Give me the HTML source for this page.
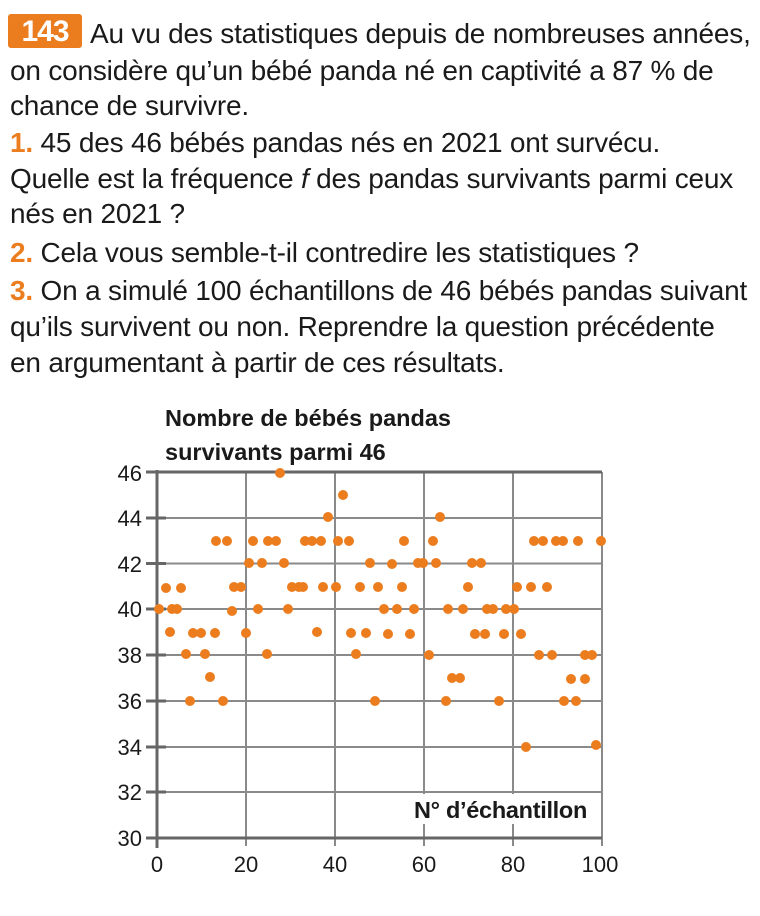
<!DOCTYPE html>
<html><head><meta charset="utf-8"><style>
body{margin:0;width:760px;height:916px;background:#fff;position:relative;overflow:hidden;font-family:"Liberation Sans",sans-serif;color:#1a1a1a}
.t{position:absolute;left:10px;font-size:28px;white-space:nowrap;line-height:36px;letter-spacing:-0.2px}
.o{color:#ec7d1e;font-weight:bold}
.badge{position:absolute;left:8px;top:14px;width:74px;height:34px;background:#ec7d1e;border-radius:3px;color:#fff;font-weight:bold;font-size:30px;text-align:center;line-height:35px;letter-spacing:-1px}
</style></head><body>
<div class="badge">143</div>
<div class="t" style="top:16px;left:90px">Au vu des statistiques depuis de nombreuses années,</div>
<div class="t" style="top:53px">on considère qu’un bébé panda né en captivité a 87 % de</div>
<div class="t" style="top:88px">chance de survivre.</div>
<div class="t" style="top:125px"><span class="o">1.</span> 45 des 46 bébés pandas nés en 2021 ont survécu.</div>
<div class="t" style="top:161px">Quelle est la fréquence <i>f</i> des pandas survivants parmi ceux</div>
<div class="t" style="top:196px">nés en 2021 ?</div>
<div class="t" style="top:235px"><span class="o">2.</span> Cela vous semble-t-il contredire les statistiques ?</div>
<div class="t" style="top:273px"><span class="o">3.</span> On a simulé 100 échantillons de 46 bébés pandas suivant</div>
<div class="t" style="top:309px">qu’ils survivent ou non. Reprendre la question précédente</div>
<div class="t" style="top:345px">en argumentant à partir de ces résultats.</div>
<svg width="760" height="916" style="position:absolute;left:0;top:0" font-family="Liberation Sans, sans-serif">
<text x="165" y="426" font-size="23.5" font-weight="bold" fill="#1a1a1a">Nombre de bébés pandas</text>
<text x="165" y="460" font-size="23.5" font-weight="bold" fill="#1a1a1a">survivants parmi 46</text>
<g stroke="#8a8a8a" stroke-width="2">
<line x1="157" y1="518" x2="602" y2="518"/><line x1="157" y1="563.5" x2="602" y2="563.5"/>
<line x1="157" y1="609" x2="602" y2="609"/><line x1="157" y1="655" x2="602" y2="655"/>
<line x1="157" y1="701" x2="602" y2="701"/><line x1="157" y1="747" x2="602" y2="747"/>
<line x1="157" y1="792" x2="602" y2="792"/>
<line x1="246" y1="472" x2="246" y2="846"/><line x1="335" y1="472" x2="335" y2="846"/>
<line x1="424" y1="472" x2="424" y2="846"/><line x1="513" y1="472" x2="513" y2="846"/>
<line x1="602" y1="472" x2="602" y2="846"/>
</g>
<g stroke="#666" stroke-width="3">
<line x1="146" y1="472" x2="602" y2="472"/>
<line x1="146" y1="838" x2="602" y2="838"/>
<line x1="157" y1="470" x2="157" y2="848"/>
<line x1="146" y1="518" x2="166" y2="518"/><line x1="146" y1="563.5" x2="166" y2="563.5"/>
<line x1="146" y1="609" x2="166" y2="609"/><line x1="146" y1="655" x2="166" y2="655"/>
<line x1="146" y1="701" x2="166" y2="701"/><line x1="146" y1="747" x2="166" y2="747"/>
<line x1="146" y1="792" x2="166" y2="792"/>
</g>
<g font-size="22" fill="#1a1a1a" text-anchor="end">
<text x="142" y="481">46</text><text x="142" y="526">44</text><text x="142" y="572">42</text>
<text x="142" y="617">40</text><text x="142" y="663">38</text><text x="142" y="709">36</text>
<text x="142" y="755">34</text><text x="142" y="800">32</text><text x="142" y="846">30</text>
</g>
<g font-size="22" fill="#1a1a1a" text-anchor="middle">
<text x="157" y="872">0</text><text x="246" y="872">20</text><text x="335" y="872">40</text>
<text x="424" y="872">60</text><text x="513" y="872">80</text><text x="600" y="872">100</text>
</g>
<rect x="410" y="794" width="190" height="30" fill="#fff"/>
<text x="414" y="818" font-size="23.5" font-weight="bold" fill="#1a1a1a" letter-spacing="-0.3">N° d’échantillon</text>
<g fill="#ec7d1e">
<circle cx="159" cy="609" r="5"/><circle cx="166" cy="588" r="5"/><circle cx="170" cy="632" r="5"/>
<circle cx="172" cy="609" r="5"/><circle cx="177" cy="609" r="5"/><circle cx="181" cy="588" r="5"/>
<circle cx="186" cy="654" r="5"/><circle cx="190" cy="701" r="5"/><circle cx="193" cy="633" r="5"/>
<circle cx="201" cy="633" r="5"/><circle cx="205" cy="654" r="5"/><circle cx="210" cy="677" r="5"/>
<circle cx="215" cy="633" r="5"/><circle cx="216" cy="541" r="5"/><circle cx="223" cy="701" r="5"/>
<circle cx="227" cy="541" r="5"/><circle cx="232" cy="611" r="5"/><circle cx="234" cy="587" r="5"/>
<circle cx="241" cy="587" r="5"/><circle cx="246" cy="633" r="5"/><circle cx="249" cy="563" r="5"/>
<circle cx="253" cy="541" r="5"/><circle cx="258" cy="609" r="5"/><circle cx="262" cy="563" r="5"/>
<circle cx="267" cy="654" r="5"/><circle cx="268" cy="541" r="5"/><circle cx="276" cy="541" r="5"/>
<circle cx="280" cy="473" r="5"/><circle cx="284" cy="563" r="5"/><circle cx="288" cy="609" r="5"/>
<circle cx="292" cy="587" r="5"/><circle cx="299" cy="587" r="5"/><circle cx="303" cy="587" r="5"/>
<circle cx="305" cy="541" r="5"/><circle cx="312" cy="541" r="5"/><circle cx="321" cy="541" r="5"/>
<circle cx="317" cy="632" r="5"/><circle cx="323" cy="587" r="5"/><circle cx="328" cy="517" r="5"/>
<circle cx="336" cy="587" r="5"/><circle cx="338" cy="541" r="5"/><circle cx="343" cy="495" r="5"/>
<circle cx="349" cy="541" r="5"/><circle cx="351" cy="633" r="5"/><circle cx="356" cy="654" r="5"/>
<circle cx="360" cy="587" r="5"/><circle cx="366" cy="633" r="5"/><circle cx="370" cy="563" r="5"/>
<circle cx="375" cy="701" r="5"/><circle cx="378" cy="587" r="5"/>
<circle cx="384" cy="609" r="5"/><circle cx="388" cy="634" r="5"/><circle cx="392" cy="564" r="5"/>
<circle cx="397" cy="609" r="5"/><circle cx="402" cy="587" r="5"/><circle cx="404" cy="541" r="5"/>
<circle cx="410" cy="634" r="5"/><circle cx="414" cy="609" r="5"/><circle cx="418" cy="563" r="5"/>
<circle cx="423" cy="563" r="5"/><circle cx="429" cy="655" r="5"/><circle cx="433" cy="541" r="5"/>
<circle cx="436" cy="563" r="5"/><circle cx="440" cy="517" r="5"/><circle cx="448" cy="609" r="5"/>
<circle cx="452" cy="678" r="5"/><circle cx="460" cy="678" r="5"/><circle cx="446" cy="701" r="5"/>
<circle cx="463" cy="609" r="5"/><circle cx="468" cy="587" r="5"/><circle cx="472" cy="563" r="5"/>
<circle cx="481" cy="563" r="5"/><circle cx="475" cy="634" r="5"/><circle cx="485" cy="634" r="5"/>
<circle cx="487" cy="609" r="5"/><circle cx="493" cy="609" r="5"/><circle cx="499" cy="701" r="5"/>
<circle cx="504" cy="634" r="5"/><circle cx="506" cy="609" r="5"/><circle cx="514" cy="609" r="5"/>
<circle cx="517" cy="587" r="5"/><circle cx="521" cy="634" r="5"/><circle cx="526" cy="747" r="5"/>
<circle cx="531" cy="587" r="5"/><circle cx="534" cy="541" r="5"/><circle cx="543" cy="541" r="5"/>
<circle cx="539" cy="655" r="5"/><circle cx="547" cy="587" r="5"/><circle cx="552" cy="655" r="5"/>
<circle cx="556" cy="541" r="5"/><circle cx="563" cy="541" r="5"/><circle cx="564" cy="701" r="5"/>
<circle cx="576" cy="701" r="5"/><circle cx="571" cy="679" r="5"/><circle cx="585" cy="679" r="5"/>
<circle cx="578" cy="541" r="5"/><circle cx="585" cy="655" r="5"/><circle cx="592" cy="655" r="5"/>
<circle cx="596" cy="745" r="5"/><circle cx="601" cy="541" r="5"/>
</g>
</svg>
</body></html>
